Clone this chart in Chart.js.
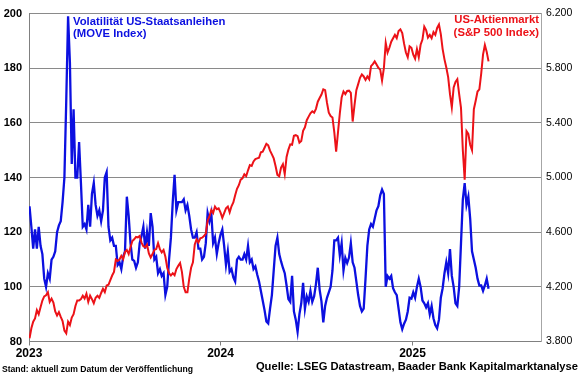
<!DOCTYPE html>
<html>
<head>
<meta charset="utf-8">
<script src="https://cdn.jsdelivr.net/npm/chart.js@4.4.1/dist/chart.umd.min.js"></script>
<style>
    html, body { margin: 0; padding: 0; background: #fff; }
    #wrap { position: relative; width: 580px; height: 375px; }
</style>
</head>
<body>
<div id="wrap"><canvas id="chart" width="580" height="375"></canvas></div>
<script>
// readings twice a week: first point on startDate, then every stepDays
const startDate = '2023-01-02'
const stepDays = 3.5
const moveIndex = [
    129.5, 122, 114, 121, 114, 122, 115, 112, 103, 100,
    105, 103, 110, 111, 113, 120, 122.5, 124, 131, 140,
    168, 199, 182, 145, 165, 140, 140, 153, 138, 122,
    123, 121, 130, 122, 134, 138, 130, 126, 128, 124,
    128, 140, 142, 122, 117, 118, 115, 115, 108, 109,
    106.5, 111, 113, 133, 126, 116, 110, 109.5, 107, 109,
    116, 118.6, 122, 114, 120, 115, 127, 122, 110, 111,
    105, 106.5, 104, 105, 97, 100, 110, 118, 131, 141,
    128, 131, 131, 131, 132, 128, 130, 126, 121, 118,
    118, 120, 114, 114, 110, 111, 116, 127, 124, 127,
    116, 118, 112, 116, 119, 121, 115, 108, 113, 105.5,
    106.5, 103.5, 102, 110, 111, 110, 110, 112, 110, 115,
    109, 110, 106.5, 107.5, 104.5, 102, 98.5, 95, 91.5, 87.3,
    86.6, 92, 97, 106, 115, 118, 112, 109.3, 107, 105,
    100.5, 95.5, 94.5, 104, 91, 88, 83.5, 90, 94, 101.5,
    92, 96.5, 94.5, 98.5, 94.5, 96.5, 101, 107, 99, 94.7,
    87, 93, 96, 98, 100, 106, 117, 117, 118, 111.5,
    116, 106, 110.6, 108.7, 110.7, 116, 109, 107, 102, 97,
    93, 91, 92, 103, 115, 121, 123, 122, 125, 128,
    129.5, 133.5, 135.6, 134, 100, 104, 103, 104, 99.5, 98,
    97, 92, 87, 84.5, 86.5, 88, 91, 96, 95.7, 98,
    96, 100, 103, 100, 95, 94, 92.5, 94, 90, 93,
    88.5, 86, 84.8, 88, 96, 99.5, 105, 109, 105, 113.8,
    104, 100, 94, 93, 100, 116, 132, 138, 130, 133,
    125, 113, 110, 107, 103, 100.5, 100.5, 98.5, 100.5, 103,
    99.3
]
const sp500 = [
    3824, 3897, 3945, 3969, 4030, 4000, 4050, 4100, 4130, 4138,
    4160, 4090, 4114, 4085, 4020, 3990, 4015, 3980, 3950, 3880,
    3860, 3945, 3921, 3975, 4000, 4060, 4100, 4100, 4110, 4135,
    4114, 4150, 4090, 4135, 4110, 4080, 4120, 4135, 4120, 4155,
    4186, 4162, 4210, 4215, 4250, 4283, 4310, 4400, 4390, 4400,
    4427, 4403, 4455, 4470, 4440, 4490, 4535, 4548, 4565, 4562,
    4572, 4524, 4497, 4490, 4510, 4445, 4415, 4440, 4470, 4476,
    4520, 4476, 4452, 4470, 4420, 4340, 4300, 4283, 4300, 4285,
    4330, 4355, 4375, 4310, 4200, 4160, 4160, 4260, 4340, 4379,
    4510, 4548, 4524, 4555, 4560, 4572, 4590, 4685, 4715, 4763,
    4741, 4788, 4768, 4774, 4745, 4705, 4740, 4775, 4788, 4745,
    4790, 4818, 4870, 4918, 4944, 4985, 4995, 5024, 5010, 5053,
    5091, 5085, 5118, 5135, 5140, 5145, 5185, 5190, 5218, 5247,
    5236, 5197, 5170, 5140, 5085, 5020, 5010, 5073, 5098, 5025,
    5151, 5205, 5243, 5240, 5306, 5310, 5303, 5255, 5267, 5342,
    5368, 5420, 5446, 5470, 5485, 5475, 5503, 5555, 5582, 5608,
    5646, 5640, 5548, 5475, 5450, 5440, 5330, 5190, 5330, 5470,
    5586, 5630, 5611, 5634, 5636, 5620, 5410, 5530, 5640, 5684,
    5730, 5755, 5740, 5715, 5740, 5720, 5815, 5830, 5850, 5827,
    5803, 5790, 5710, 5800, 5985, 5915, 5950, 5994, 6020, 6044,
    6020, 6072, 6085, 6058, 5980, 5915, 5880, 5960, 5950, 5899,
    5870, 5940, 5880, 5972, 6010, 6105, 6080, 6025, 6044, 6020,
    6065, 6044, 6095, 6120, 6050, 5940, 5865, 5805, 5735, 5610,
    5513, 5660, 5700, 5720, 5610, 5510, 5200, 4985, 5340, 5320,
    5240, 5200, 5500, 5562, 5630, 5645, 5760, 5900, 5970, 5920,
    5850
]
const yearTicks = ['2023-01-01', '2024-01-01', '2025-01-01']
const yearLabels = ['2023', '2024', '2025']
const axisEnd = '2025-09-03'
const leftRange = [80, 200, 20]
const rightRange = [3800, 6200, 400]

const moveLabel = ['Volatilität US-Staatsanleihen', '(MOVE Index)']
const spxLabel = ['US-Aktienmarkt', '(S&P 500 Index)']
const footLeft = 'Stand: aktuell zum Datum der Veröffentlichung'
const footRight = 'Quelle: LSEG Datastream, Baader Bank Kapitalmarktanalyse'

const blue = '#0c10e0'
const red = '#ec1218'
const font = '"Liberation Sans", Arial, sans-serif'

function dayOf(s) {
    return (Date.parse(s) - Date.parse('2023-01-01')) / 86400000
}

function toPoints(values) {
    const d0 = dayOf(startDate)
    return values.map((v, i) => ({ x: d0 + stepDays * i, y: v }))
}

const textPlugin = {
    id: 'texts',
    afterDraw(chart) {
        const ctx = chart.ctx
        ctx.save()
        ctx.textBaseline = 'alphabetic'
        ctx.font = 'bold 11.3px ' + font
        ctx.fillStyle = blue
        ctx.textAlign = 'left'
        ctx.fillText(moveLabel[0], 73, 24.5)
        ctx.fillText(moveLabel[1], 73, 36.5)
        ctx.fillStyle = red
        ctx.textAlign = 'right'
        ctx.fillText(spxLabel[0], 539, 23)
        ctx.fillText(spxLabel[1], 539, 35.5)
        ctx.fillStyle = '#000'
        ctx.font = 'bold 11.2px ' + font
        ctx.fillText(footRight, 578, 370)
        ctx.textAlign = 'left'
        ctx.font = 'bold 8.6px ' + font
        ctx.fillText(footLeft, 2, 372)
        ctx.restore()
    }
}

new Chart(document.getElementById('chart').getContext('2d'), {
    type: 'line',
    data: {
        datasets: [
            {
                label: 'S&P 500',
                data: toPoints(sp500),
                yAxisID: 'y2',
                borderColor: red,
                borderWidth: 2,
                pointRadius: 0,
                tension: 0
            },
            {
                label: 'MOVE',
                data: toPoints(moveIndex),
                yAxisID: 'y',
                borderColor: blue,
                borderWidth: 2.3,
                pointRadius: 0,
                tension: 0
            }
        ]
    },
    options: {
        responsive: false,
        animation: false,
        events: [],
        layout: { padding: { top: 10, left: 0, right: 0, bottom: 0 } },
        plugins: { legend: { display: false }, tooltip: { enabled: false } },
        scales: {
            x: {
                type: 'linear',
                min: 0,
                max: dayOf(axisEnd),
                afterBuildTicks: axis => {
                    axis.ticks = yearTicks.map(d => ({ value: dayOf(d) }))
                },
                afterFit: axis => { axis.height = 33.5 },
                ticks: {
                    callback: (v, i) => yearLabels[i],
                    autoSkip: false,
                    maxRotation: 0,
                    color: '#000',
                    padding: 1,
                    font: { family: font, size: 12, weight: 'bold' }
                },
                grid: { drawOnChartArea: false, drawTicks: true, tickLength: 4, color: '#808080' },
                border: { color: '#808080' }
            },
            y: {
                position: 'left',
                min: leftRange[0],
                max: leftRange[1],
                afterFit: axis => { axis.width = 29 },
                ticks: {
                    stepSize: leftRange[2],
                    color: '#000',
                    padding: 7,
                    font: { family: font, size: 11, weight: 'bold' }
                },
                grid: { color: '#8a8a8a', drawTicks: false },
                border: { color: '#808080' }
            },
            y2: {
                position: 'right',
                min: rightRange[0],
                max: rightRange[1],
                afterFit: axis => { axis.width = 39 },
                ticks: {
                    stepSize: rightRange[2],
                    color: '#000',
                    padding: 5,
                    callback: v => v.toLocaleString('de-DE'),
                    font: { family: font, size: 10.5 }
                },
                grid: { drawOnChartArea: false, drawTicks: false },
                border: { color: '#a6a6a6' }
            }
        }
    },
    plugins: [textPlugin]
})
</script>
</body>
</html>
